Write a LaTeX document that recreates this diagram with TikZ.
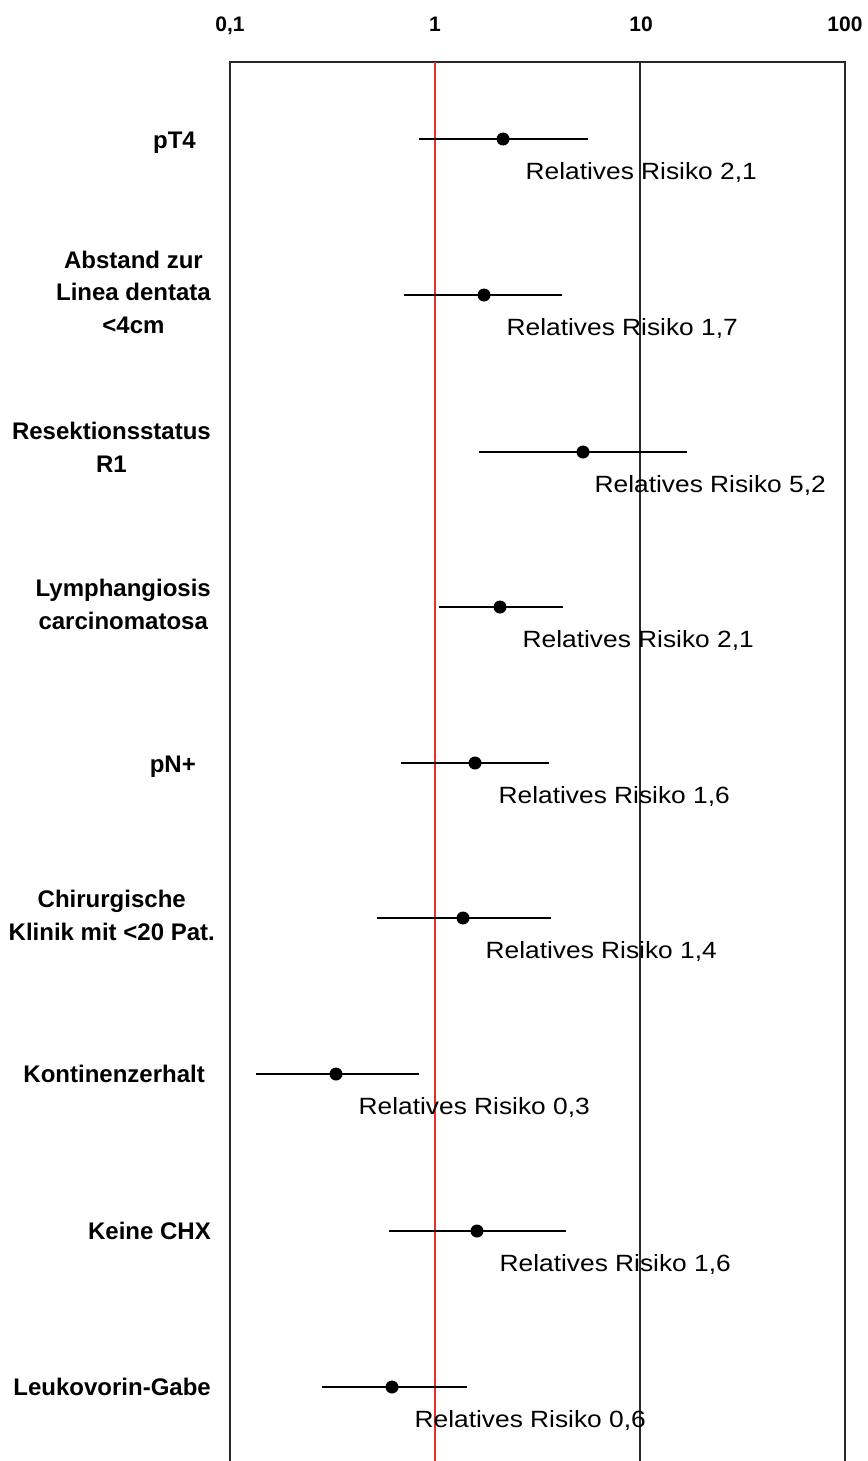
\documentclass[tikz,border=0pt]{standalone}
\usepackage{fontspec}
\setmainfont{Liberation Sans}
\newfontfamily\rrfont[FakeStretch=1.12]{Liberation Sans}
\definecolor{refred}{RGB}{235,45,45}
\definecolor{framegray}{RGB}{40,40,40}
\begin{document}
\begin{tikzpicture}[x=1pt,y=-1pt,
  frameline/.style={draw=framegray,line width=1.3pt},
  redline/.style={draw=refred,line width=1.3pt},
  ciline/.style={draw=black,line width=1.3pt},
  estdot/.style={circle,fill=black,inner sep=0pt,minimum size=13pt},
  axlabel/.style={font=\fontsize{21}{25}\selectfont\bfseries,inner sep=0pt,execute at begin node=\strut},
  rowlabel/.style={font=\fontsize{24}{32.5}\selectfont\bfseries,align=center,anchor=east,inner sep=0pt,execute at begin node=\strut,execute at end node=\strut},
  rrlabel/.style={font=\rrfont\fontsize{23.5}{28}\selectfont,anchor=west,inner sep=0pt,execute at begin node=\strut}]
\useasboundingbox (0,0) rectangle (867,1461);
% frame
\coordinate (tl) at (230,62);
\coordinate (tr) at (845,62);
\coordinate (bl) at (230,1461);
\coordinate (br) at (845,1461);
\coordinate (onet) at (435,62);
\coordinate (oneb) at (435,1461);
\coordinate (tent) at (640,62);
\coordinate (tenb) at (640,1461);
\draw[frameline] (bl) -- (tl) -- (tr) -- (br);
\draw[frameline] (tent) -- (tenb);
\draw[redline] (onet) -- (oneb);
% axis labels
\node[axlabel] (ax01) at (230,26.6) {0,1};
\node[axlabel] (ax1) at (435,26.6) {1};
\node[axlabel] (ax10) at (641,26.6) {10};
\node[axlabel] (ax100) at (845,26.6) {100};
% confidence intervals
\coordinate (lo1) at (419,139); \coordinate (hi1) at (588,139);
\coordinate (lo2) at (404,295); \coordinate (hi2) at (562,295);
\coordinate (lo3) at (479,452); \coordinate (hi3) at (687,452);
\coordinate (lo4) at (439,607); \coordinate (hi4) at (563,607);
\coordinate (lo5) at (401,763); \coordinate (hi5) at (549,763);
\coordinate (lo6) at (377,918); \coordinate (hi6) at (551,918);
\coordinate (lo7) at (256,1074); \coordinate (hi7) at (419,1074);
\coordinate (lo8) at (389,1231); \coordinate (hi8) at (566,1231);
\coordinate (lo9) at (322,1387); \coordinate (hi9) at (467,1387);
\foreach \i in {1,...,9} {\draw[ciline] (lo\i) -- (hi\i);}
% estimates
\node[estdot] (d1) at (503,139) {};
\node[estdot] (d2) at (484,295) {};
\node[estdot] (d3) at (583,452) {};
\node[estdot] (d4) at (500,607) {};
\node[estdot] (d5) at (475,763) {};
\node[estdot] (d6) at (463,918) {};
\node[estdot] (d7) at (336,1074) {};
\node[estdot] (d8) at (477,1231) {};
\node[estdot] (d9) at (392,1387) {};
% row labels
\node[rowlabel] (l1) at (196,142) {pT4};
\node[rowlabel] (l2) at (211,297) {Abstand zur\\Linea dentata\\<4cm};
\node[rowlabel] (l3) at (211,452) {Resektionsstatus\\R1};
\node[rowlabel] (l4) at (211,609) {Lymphangiosis\\carcinomatosa};
\node[rowlabel] (l5) at (196,766) {pN+};
\node[rowlabel] (l6) at (215,920) {Chirurgische\\Klinik mit <20 Pat.};
\node[rowlabel] (l7) at (205,1076) {Kontinenzerhalt};
\node[rowlabel] (l8) at (211,1233) {Keine CHX};
\node[rowlabel] (l9) at (211,1389) {Leukovorin-Gabe};
% relative risk labels
\node[rrlabel] (r1) at (525.5,174) {Relatives Risiko 2,1};
\node[rrlabel] (r2) at (506.5,330) {Relatives Risiko 1,7};
\node[rrlabel] (r3) at (594.5,487) {Relatives Risiko 5,2};
\node[rrlabel] (r4) at (522.5,642) {Relatives Risiko 2,1};
\node[rrlabel] (r5) at (498.5,798) {Relatives Risiko 1,6};
\node[rrlabel] (r6) at (485.5,953) {Relatives Risiko 1,4};
\node[rrlabel] (r7) at (358.5,1109) {Relatives Risiko 0,3};
\node[rrlabel] (r8) at (499.5,1266) {Relatives Risiko 1,6};
\node[rrlabel] (r9) at (414.5,1422) {Relatives Risiko 0,6};
\end{tikzpicture}
\end{document}
